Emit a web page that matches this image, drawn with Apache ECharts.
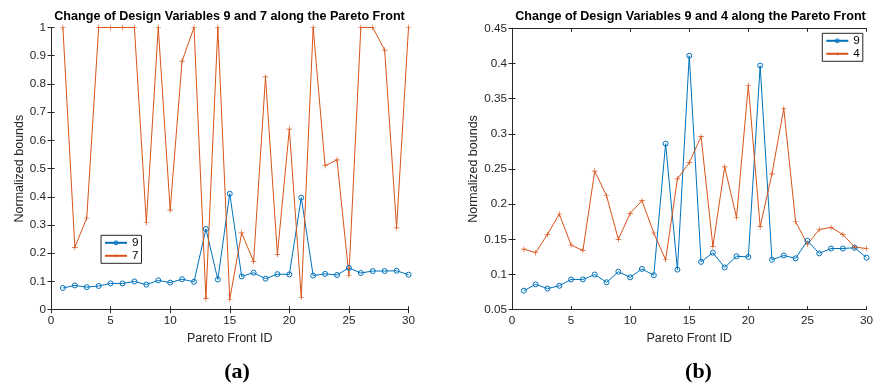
<!DOCTYPE html>
<html>
<head>
<meta charset="utf-8">
<script src="https://cdn.jsdelivr.net/npm/echarts@6/dist/echarts.min.js"></script>
<style>
  html, body { margin: 0; padding: 0; background: #fff; }
  #main { width: 876px; height: 390px; }
</style>
</head>
<body>
<div id="main"></div>
<script>
// Pareto front solution IDs
const frontIds = [1,2,3,4,5,6,7,8,9,10,11,12,13,14,15,16,17,18,19,20,21,22,23,24,25,26,27,28,29,30];

// Normalized bounds of design variable 9
const var9 = [0.077,0.086,0.080,0.084,0.093,0.093,0.100,0.089,0.104,0.096,0.108,0.099,0.286,0.107,0.411,
              0.118,0.131,0.110,0.126,0.125,0.397,0.121,0.127,0.123,0.148,0.130,0.137,0.137,0.138,0.124];

// Normalized bounds of design variable 7
const var7 = [1.000,0.221,0.325,1.000,1.000,1.000,1.000,0.308,1.000,0.353,0.881,1.000,0.039,1.000,0.037,
              0.272,0.171,0.825,0.196,0.640,0.044,1.000,0.510,0.531,0.122,1.000,1.000,0.920,0.290,1.000];

// Normalized bounds of design variable 4
const var4 = [0.136,0.131,0.157,0.186,0.142,0.134,0.247,0.212,0.150,0.187,0.205,0.159,0.121,0.236,0.259,
              0.296,0.140,0.253,0.181,0.369,0.168,0.243,0.336,0.175,0.143,0.164,0.167,0.157,0.139,0.137];

const titleA = 'Change of Design Variables 9 and 7 along the Pareto Front';
const titleB = 'Change of Design Variables 9 and 4 along the Pareto Front';
const xName = 'Pareto Front ID';
const yName = 'Normalized bounds';

const BLUE = '#0072BD';
const ORANGE = '#D95319';
const AXIS = '#262626';
const FONT = '"Liberation Sans", Arial, Helvetica, sans-serif';
// filled cross used as the "+" marker
const PLUS = 'path://M4.4,0h1.2v4.4h4.4v1.2h-4.4v4.4h-1.2v-4.4h-4.4v-1.2h4.4z';

const pairs = vals => frontIds.map((id, i) => [id, vals[i]]);
const fmt = v => String(Math.round(v * 100) / 100);

const hollow = color => ({ color: 'rgba(255,255,255,0)', borderColor: color, borderWidth: 1 });

function bottomX(grid) {
  return {
    type: 'value', gridIndex: grid, position: 'bottom', min: 0, max: 30, interval: 5,
    name: xName, nameLocation: 'middle', nameGap: 19,
    nameTextStyle: { color: AXIS, fontSize: 12.5, fontFamily: FONT },
    axisLine: { show: true, lineStyle: { color: AXIS, width: 1 } },
    axisTick: { show: true, inside: true, length: 3.5, lineStyle: { color: AXIS } },
    axisLabel: { color: AXIS, fontSize: 11.7, fontFamily: FONT, margin: 5 },
    splitLine: { show: false }
  };
}
function topX(grid) {
  return {
    type: 'value', gridIndex: grid, position: 'top', min: 0, max: 30, interval: 5,
    axisLine: { show: true, lineStyle: { color: AXIS, width: 1 } },
    axisTick: { show: true, inside: true, length: 3.5, lineStyle: { color: AXIS } },
    axisLabel: { show: false }, splitLine: { show: false }
  };
}
function leftY(grid, min, max, step, gap) {
  return {
    type: 'value', gridIndex: grid, position: 'left', min: min, max: max, interval: step,
    name: yName, nameLocation: 'middle', nameGap: gap,
    nameTextStyle: { color: AXIS, fontSize: 12.5, fontFamily: FONT },
    axisLine: { show: true, lineStyle: { color: AXIS, width: 1 } },
    axisTick: { show: true, inside: true, length: 3.5, lineStyle: { color: AXIS } },
    axisLabel: { color: AXIS, fontSize: 11.7, fontFamily: FONT, margin: 5, formatter: fmt },
    splitLine: { show: false }
  };
}
function rightY(grid, min, max, step) {
  return {
    type: 'value', gridIndex: grid, position: 'right', min: min, max: max, interval: step,
    axisLine: { show: true, lineStyle: { color: AXIS, width: 1 } },
    axisTick: { show: true, inside: true, length: 3.5, lineStyle: { color: AXIS } },
    axisLabel: { show: false }, splitLine: { show: false }
  };
}
function lineSeries(name, vals, color, symbol, xi, yi) {
  const circle = symbol === 'circle';
  return {
    name: name, type: 'line', xAxisIndex: xi, yAxisIndex: yi, data: pairs(vals),
    symbol: symbol, symbolSize: circle ? 5 : 5.5, showAllSymbol: true,
    lineStyle: { color: color, width: 1 },
    itemStyle: circle ? hollow(color) : { color: color, borderWidth: 0 },
    emphasis: { disabled: true }, animation: false
  };
}
function legendAt(left, top, names) {
  return {
    data: [
      { name: names[0], itemStyle: hollow(BLUE) },
      { name: names[1] }
    ],
    orient: 'vertical', left: left, top: top,
    backgroundColor: '#fff', borderColor: AXIS, borderWidth: 1, borderRadius: 0,
    padding: [1, 3, 1, 3], itemWidth: 22, itemHeight: 5, itemGap: 0,
    textStyle: { color: '#000', fontSize: 11.7, fontFamily: FONT, lineHeight: 13 },
    selectedMode: false
  };
}
function text(x, y, str, size, weight, family) {
  return {
    type: 'text', x: x, y: y, silent: true,
    style: { text: str, fill: '#000', font: weight + ' ' + size + 'px ' + family,
             textAlign: 'center', textVerticalAlign: 'middle' }
  };
}

const chart = echarts.init(document.getElementById('main'), null, { renderer: 'canvas' });
chart.setOption({
  animation: false,
  backgroundColor: '#fff',
  grid: [
    { left: 51, top: 27.5, width: 357.5, height: 282.2 },
    { left: 512, top: 28.3, width: 357.7, height: 281.4 }
  ],
  xAxis: [bottomX(0), topX(0), bottomX(1), topX(1)],
  yAxis: [leftY(0, 0, 1, 0.1, 23), rightY(0, 0, 1, 0.1), leftY(1, 0.05, 0.45, 0.05, 29), rightY(1, 0.05, 0.45, 0.05)],
  legend: [legendAt(101, 235.3, ['9', '7']), legendAt(822.3, 33.3, ['9', '4'])],
  series: [
    lineSeries('9', var9, BLUE, 'circle', 0, 0),
    lineSeries('7', var7, ORANGE, PLUS, 0, 0),
    lineSeries('9', var9, BLUE, 'circle', 2, 2),
    lineSeries('4', var4, ORANGE, PLUS, 2, 2)
  ],
  graphic: [
    text(229.5, 16.5, titleA, 12.6, 'bold', FONT),
    text(690.5, 16.5, titleB, 12.6, 'bold', FONT),
    text(237, 372, '(a)', 22, 'bold', '"Liberation Serif", "DejaVu Serif", serif'),
    text(698.5, 372, '(b)', 22, 'bold', '"Liberation Serif", "DejaVu Serif", serif')
  ]
});
</script>
</body>
</html>
